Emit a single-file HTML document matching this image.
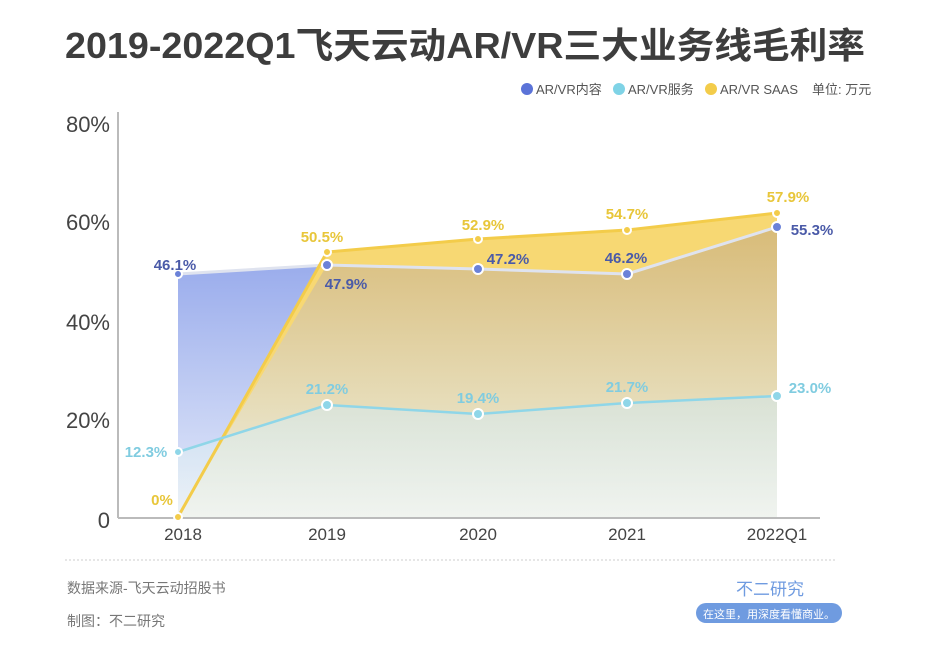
<!DOCTYPE html>
<html><head><meta charset="utf-8"><style>
body{margin:0;width:940px;height:644px;background:#fff;overflow:hidden;font-family:"Liberation Sans","Noto Sans CJK SC",sans-serif}
</style></head><body>
<svg width="940" height="644" viewBox="0 0 940 644" xmlns="http://www.w3.org/2000/svg" font-family="Liberation Sans, Noto Sans CJK SC, sans-serif">
<defs>
<linearGradient id="gb" x1="0" y1="0" x2="0" y2="1"><stop offset="0" stop-color="#8fa3ea"/><stop offset="1" stop-color="#e6ecfa"/></linearGradient>
<linearGradient id="gy" x1="0" y1="0" x2="0" y2="1"><stop offset="0" stop-color="#d8bb78"/><stop offset="0.6" stop-color="#e6dcb8"/><stop offset="1" stop-color="#eef0e8"/></linearGradient>
<linearGradient id="gc" x1="0" y1="0" x2="0" y2="1"><stop offset="0" stop-color="#cde8f2" stop-opacity="0.5"/><stop offset="1" stop-color="#f2f6f4" stop-opacity="0.6"/></linearGradient>
</defs>
<text x="465" y="58" text-anchor="middle" font-size="36" font-weight="bold" fill="#3d3d3d" textLength="800" lengthAdjust="spacingAndGlyphs">2019-2022Q1飞天云动AR/VR三大业务线毛利率</text>
<circle cx="527" cy="89" r="6" fill="#5b73d8"/><text x="536" y="94" font-size="13" fill="#555">AR/VR内容</text>
<circle cx="619" cy="89" r="6" fill="#7fd3e6"/><text x="628" y="94" font-size="13" fill="#555">AR/VR服务</text>
<circle cx="711" cy="89" r="6" fill="#f3cc4a"/><text x="720" y="94" font-size="13" fill="#555">AR/VR SAAS</text>
<text x="812" y="94" font-size="13" fill="#555">单位: 万元</text>
<polygon points="178,274 327,265 478,269 627,274 777,227 777,518 178,518" fill="url(#gb)"/>
<polygon points="178,517 327,252 478,239 627,230 777,213 777,518 178,518" fill="#f7d873"/>
<polygon points="178,517 327,265 478,269 627,274 777,227 777,518" fill="url(#gy)"/>
<polygon points="178,452 327,405 478,414 627,403 777,396 777,518 178,518" fill="url(#gc)"/>
<polyline points="178,274 327,265 478,269 627,274 777,227" fill="none" stroke="#dfe3ef" stroke-width="3"/>
<polyline points="178,517 327,252 478,239 627,230 777,213" fill="none" stroke="#f3cc4a" stroke-width="3"/>
<polyline points="178,452 327,405 478,414 627,403 777,396" fill="none" stroke="#8fd6e8" stroke-width="2.5"/>
<line x1="118" y1="112" x2="118" y2="518" stroke="#bbb" stroke-width="2"/>
<line x1="118" y1="518" x2="820" y2="518" stroke="#bbb" stroke-width="2"/>
<g font-size="22" fill="#444" text-anchor="end">
<text x="110" y="132">80%</text><text x="110" y="230">60%</text><text x="110" y="330">40%</text><text x="110" y="428">20%</text><text x="110" y="528">0</text></g>
<g font-size="17" fill="#444" text-anchor="middle">
<text x="183" y="540">2018</text><text x="327" y="540">2019</text><text x="478" y="540">2020</text><text x="627" y="540">2021</text><text x="777" y="540">2022Q1</text></g>
<g stroke="#fff" stroke-width="2">
<circle cx="178" cy="274" r="4" fill="#6b82d8"/><circle cx="327" cy="265" r="5" fill="#6b82d8"/><circle cx="478" cy="269" r="5" fill="#6b82d8"/><circle cx="627" cy="274" r="5" fill="#6b82d8"/><circle cx="777" cy="227" r="5" fill="#6b82d8"/>
<circle cx="178" cy="517" r="4" fill="#f3cc4a"/><circle cx="327" cy="252" r="4" fill="#f3cc4a"/><circle cx="478" cy="239" r="4" fill="#f3cc4a"/><circle cx="627" cy="230" r="4" fill="#f3cc4a"/><circle cx="777" cy="213" r="4" fill="#f3cc4a"/>
<circle cx="178" cy="452" r="4" fill="#8fd6e8"/><circle cx="327" cy="405" r="5" fill="#8fd6e8"/><circle cx="478" cy="414" r="5" fill="#8fd6e8"/><circle cx="627" cy="403" r="5" fill="#8fd6e8"/><circle cx="777" cy="396" r="5" fill="#8fd6e8"/>
</g>
<g font-size="15" font-weight="bold" text-anchor="middle">
<text x="175" y="270" fill="#4a5aa8">46.1%</text><text x="346" y="289" fill="#4a5aa8">47.9%</text><text x="508" y="264" fill="#4a5aa8">47.2%</text><text x="626" y="263" fill="#4a5aa8">46.2%</text><text x="812" y="235" fill="#4a5aa8">55.3%</text>
<text x="162" y="505" fill="#e8c63a">0%</text><text x="322" y="242" fill="#e8c63a">50.5%</text><text x="483" y="230" fill="#e8c63a">52.9%</text><text x="627" y="219" fill="#e8c63a">54.7%</text><text x="788" y="202" fill="#e8c63a">57.9%</text>
<text x="146" y="457" fill="#80cce0">12.3%</text><text x="327" y="394" fill="#80cce0">21.2%</text><text x="478" y="403" fill="#80cce0">19.4%</text><text x="627" y="392" fill="#80cce0">21.7%</text><text x="810" y="393" fill="#80cce0">23.0%</text>
</g>
<line x1="65" y1="560" x2="835" y2="560" stroke="#ccc" stroke-dasharray="2,2"/>
<text x="67" y="593" font-size="14" fill="#777">数据来源-飞天云动招股书</text>
<text x="67" y="626" font-size="14" fill="#777">制图：不二研究</text>
<text x="770" y="595" font-size="17" text-anchor="middle" fill="#6f9be0">不二研究</text>
<rect x="696" y="603" width="146" height="20" rx="10" fill="#6f9be0"/>
<text x="769" y="618" font-size="11" text-anchor="middle" fill="#fff">在这里，用深度看懂商业。</text>
</svg>
</body></html>
